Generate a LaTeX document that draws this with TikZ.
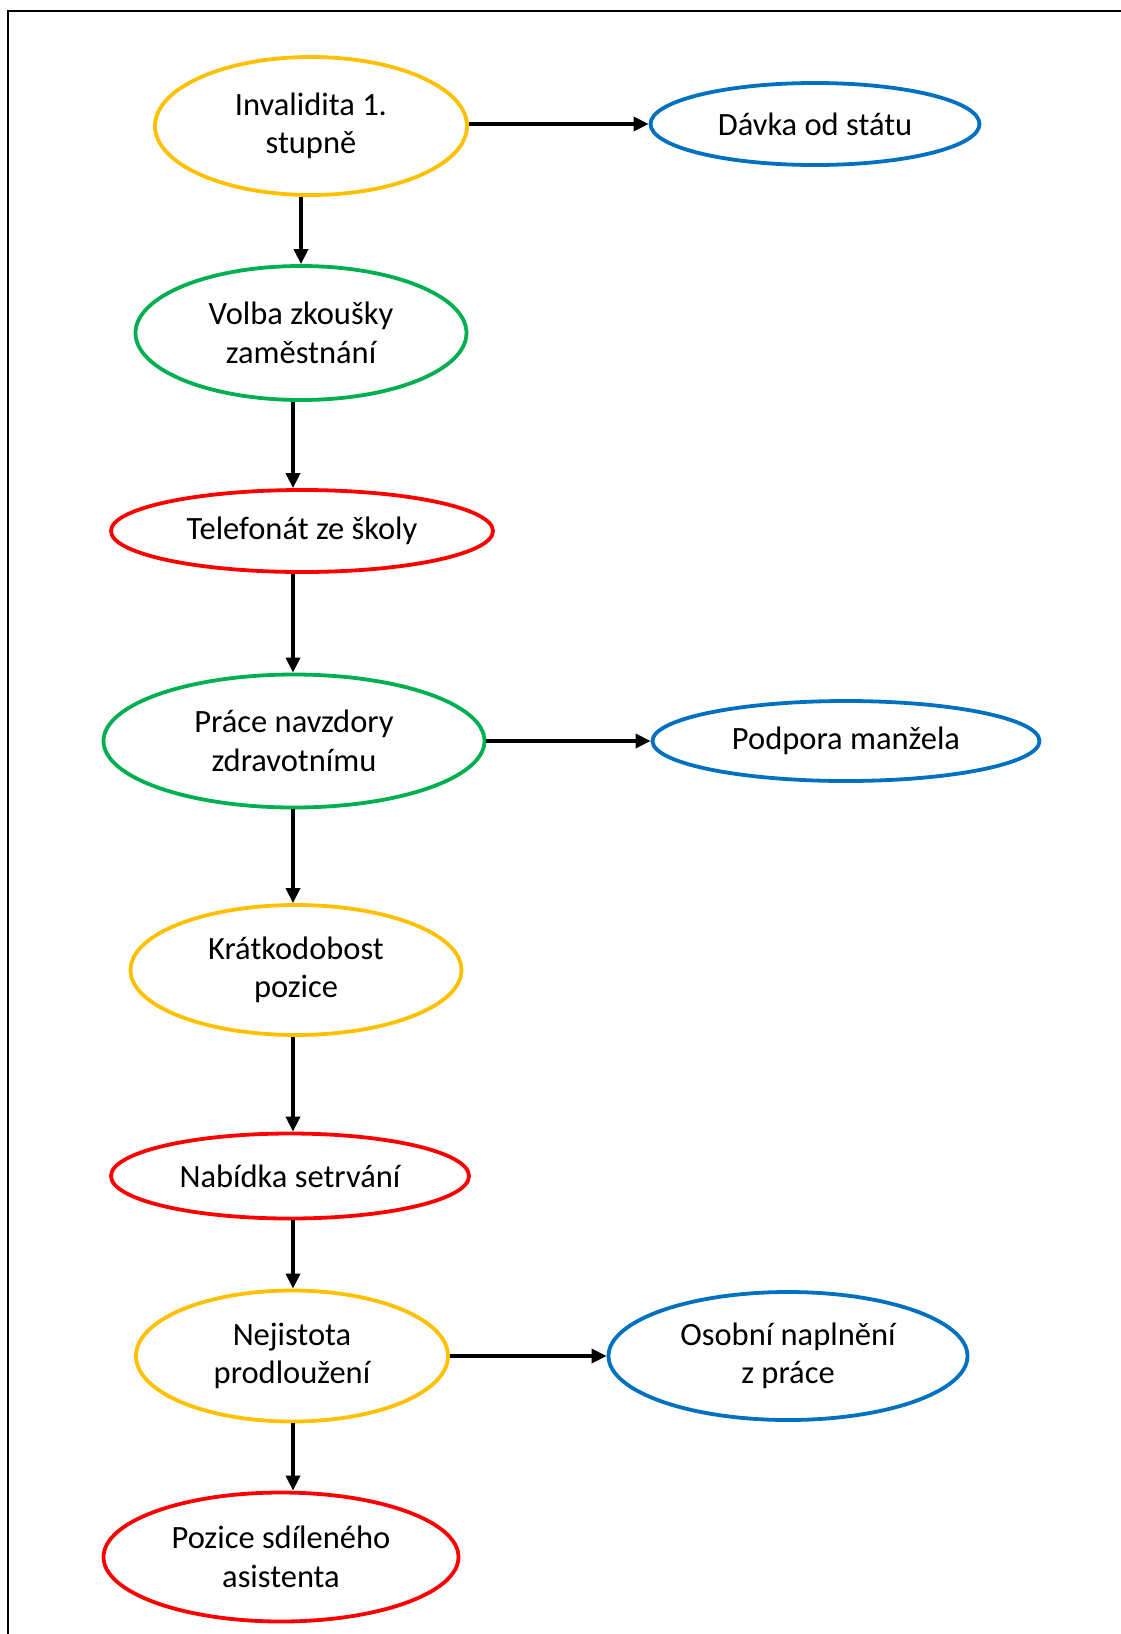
\documentclass[tikz,border=0pt]{standalone}
\usepackage{fontspec}
\setmainfont{Carlito}
\usetikzlibrary{shapes.geometric, arrows.meta}

\definecolor{zluta}{HTML}{FFC000}
\definecolor{zelena}{HTML}{00B050}
\definecolor{cervena}{HTML}{FF0000}
\definecolor{modra}{HTML}{0070C0}

\begin{document}
\begin{tikzpicture}[
    x=1pt, y=-1pt,
    stav/.style={ellipse, draw, line width=3.8pt, inner sep=0pt,
      align=center, font=\fontsize{32.5}{38.5}\selectfont},
    sipka/.style={-{Triangle[length=15pt, width=14pt]}, line width=3.6pt}
  ]
    \useasboundingbox (0,0) rectangle (1121,1634);
    \draw[line width=2pt] (8,11) rectangle (1140,1660);

    % Uzly
    \node[stav, draw=zluta, minimum width=312, minimum height=138]
      (invalid) at (311,126) {Invalidita 1.\\stupně};
    \node[stav, draw=modra, minimum width=329, minimum height=82]
      (davka) at (815,124) {Dávka od státu};
    \node[stav, draw=zelena, minimum width=331, minimum height=134]
      (volba) at (301,333) {Volba zkoušky\\zaměstnání};
    \node[stav, draw=cervena, minimum width=382, minimum height=82]
      (telefon) at (302,531) {Telefonát ze školy};
    \node[stav, draw=zelena, minimum width=381, minimum height=133]
      (prace) at (294,741) {Práce navzdory\\zdravotnímu};
    \node[stav, draw=modra, minimum width=387, minimum height=80]
      (podpora) at (846,741) {Podpora manžela};
    \node[stav, draw=zluta, minimum width=331, minimum height=130]
      (kratko) at (296,970) {Krátkodobost\\pozice};
    \node[stav, draw=cervena, minimum width=358, minimum height=85]
      (nabidka) at (290,1176) {Nabídka setrvání};
    \node[stav, draw=zluta, minimum width=312, minimum height=131]
      (nejistota) at (292,1356) {Nejistota\\prodloužení};
    \node[stav, draw=modra, minimum width=359, minimum height=128]
      (osobni) at (788,1356) {Osobní naplnění\\z práce};
    \node[stav, draw=cervena, minimum width=355, minimum height=129]
      (pozice) at (281,1557) {Pozice sdíleného\\asistenta};

    % Sipky
    \coordinate (osa) at (293,0);
    \draw[sipka] (invalid.east |- davka) -- (davka.west);
    \draw[sipka] (invalid.south -| volba) -- (volba.north);
    \draw[sipka] (volba.south -| osa) -- (telefon.north -| osa);
    \draw[sipka] (telefon.south -| osa) -- (prace.north -| osa);
    \draw[sipka] (prace.east) -- (podpora.west);
    \draw[sipka] (prace.south -| osa) -- (kratko.north -| osa);
    \draw[sipka] (kratko.south -| osa) -- (nabidka.north -| osa);
    \draw[sipka] (nabidka.south -| osa) -- (nejistota.north -| osa);
    \draw[sipka] (nejistota.east) -- (osobni.west);
    \draw[sipka] (nejistota.south -| osa) -- (pozice.north -| osa);
  \end{tikzpicture}
\end{document}
